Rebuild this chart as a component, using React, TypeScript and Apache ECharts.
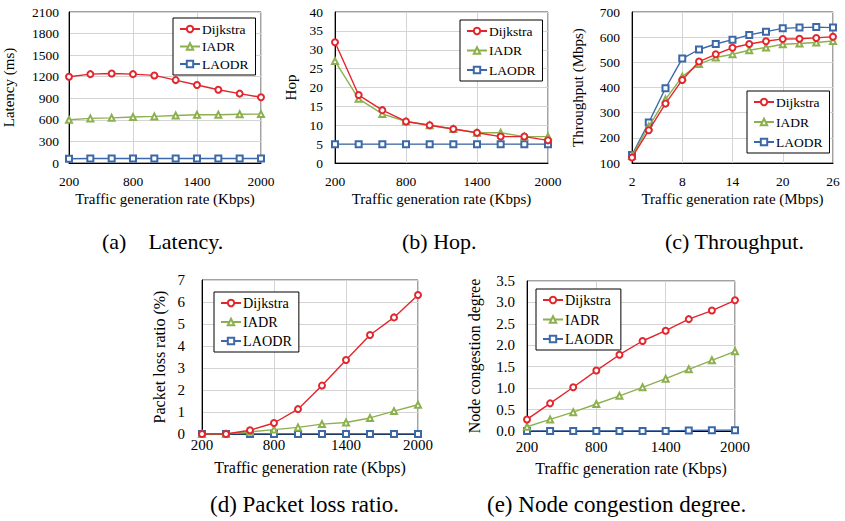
import React, { useEffect, useRef } from 'react';
import * as echarts from 'echarts';

const seriesNames = ['Dijkstra', 'IADR', 'LAODR'];
const kbpsRates = [200, 400, 600, 800, 1000, 1200, 1400, 1600, 1800, 2000];
const mbpsRates = [2, 4, 6, 8, 10, 12, 14, 16, 18, 20, 22, 24, 26];

const latencyDijkstra = [1200, 1236, 1245, 1236, 1218, 1153, 1085, 1018, 965, 914];
const latencyIADR = [602, 620, 628, 639, 648, 660, 670, 671, 678, 680];
const latencyLAODR = [60, 63, 63, 63, 63, 63, 63, 63, 63, 63];

const hopDijkstra = [32, 18, 14, 11, 10, 9, 8, 7, 7, 6];
const hopIADR = [27, 17, 13, 11, 10, 9, 8, 8, 7, 7];
const hopLAODR = [5, 5, 5, 5, 5, 5, 5, 5, 5, 5];

const thrDijkstra = [122, 230, 336, 430, 503, 532, 558, 573, 584, 593, 594, 597, 602];
const thrIADR = [128, 245, 353, 443, 493, 519, 532, 548, 559, 572, 575, 579, 585];
const thrLAODR = [132, 261, 397, 515, 551, 573, 590, 609, 622, 635, 638, 640, 638];

const lossDijkstra = [0, 0, 0.17, 0.5, 1.13, 2.2, 3.36, 4.5, 5.3, 6.32];
const lossIADR = [0, 0, 0.1, 0.2, 0.3, 0.45, 0.52, 0.73, 1.04, 1.33];
const lossLAODR = [0, 0, 0, 0, 0, 0, 0, 0, 0, 0];

const congDijkstra = [0.27, 0.645, 1.02, 1.41, 1.78, 2.1, 2.34, 2.61, 2.81, 3.05];
const congIADR = [0.1, 0.27, 0.44, 0.63, 0.82, 1.02, 1.22, 1.44, 1.65, 1.86];
const congLAODR = [0, 0, 0, 0, 0, 0, 0, 0.01, 0.02, 0.02];

const captions = ['(a)\u00a0\u00a0\u00a0\u00a0Latency.', '(b) Hop.', '(c) Throughput.', '(d) Packet loss ratio.', '(e) Node congestion degree.'];
const yNames = ['Latency (ms)', 'Hop', 'Throughput (Mbps)', 'Packet loss ratio (%)', 'Node congestion degree'];
const xNames = ['Traffic generation rate (Kbps)', 'Traffic generation rate (Kbps)', 'Traffic generation rate (Mbps)', 'Traffic generation rate (Kbps)', 'Traffic generation rate (Kbps)'];

const FONT = 'Liberation Serif';
const COLORS = ['#e3262d', '#8db04f', '#3d68a8'];
const SYMBOLS = ['emptyCircle', 'emptyTriangle', 'emptyRect'];

const App: React.FC = () => {
  const ref = useRef<HTMLDivElement>(null);
  useEffect(() => {
    if (!ref.current) return;
    const chart = echarts.init(ref.current, undefined, { renderer: 'svg' });

    const plain = (v: number) => String(v);
    const panels = [
      { grid: { left: 63, top: 12, width: 198, height: 151 }, x: { min: 200, max: 2000, interval: 600 }, y: { min: 0, max: 2100, interval: 300 }, xs: kbpsRates, data: [latencyDijkstra, latencyIADR, latencyLAODR], tick: 13.5, nameSize: 15, yGap: 53, xGap: 28, xMargin: 11, yMargin: 10, legend: { left: 173, top: 18, gap: 3.5, size: 13.5 }, fmt: plain },
      { grid: { left: 335, top: 12, width: 213, height: 151 }, x: { min: 200, max: 2000, interval: 600 }, y: { min: 0, max: 40, interval: 5 }, xs: kbpsRates, data: [hopDijkstra, hopIADR, hopLAODR], tick: 13.5, nameSize: 15, yGap: 37, xGap: 28, xMargin: 11, yMargin: 12, legend: { left: 460, top: 20, gap: 5.5, size: 13.5 }, fmt: plain },
      { grid: { left: 632, top: 12, width: 201, height: 151 }, x: { min: 2, max: 26, interval: 6 }, y: { min: 100, max: 700, interval: 100 }, xs: mbpsRates, data: [thrDijkstra, thrIADR, thrLAODR], tick: 13.5, nameSize: 15, yGap: 47, xGap: 28, xMargin: 11, yMargin: 12, legend: { left: 747, top: 91, gap: 6, size: 13.5 }, fmt: plain },
      { grid: { left: 202, top: 280, width: 216, height: 154 }, x: { min: 200, max: 2000, interval: 600 }, y: { min: 0, max: 7, interval: 1 }, xs: kbpsRates, data: [lossDijkstra, lossIADR, lossLAODR], tick: 15, nameSize: 16, yGap: 35, xGap: 25, xMargin: 3, yMargin: 17, legend: { left: 214, top: 292, gap: 5, size: 14.2 }, fmt: plain },
      { grid: { left: 527, top: 281, width: 208, height: 150 }, x: { min: 200, max: 2000, interval: 600 }, y: { min: 0, max: 3.5, interval: 0.5 }, xs: kbpsRates, data: [congDijkstra, congIADR, congLAODR], tick: 15, nameSize: 16, yGap: 45, xGap: 29, xMargin: 8, yMargin: 12, legend: { left: 536, top: 289, gap: 5.5, size: 14.2 }, fmt: (v: number) => v.toFixed(1) },
    ];

    const grid: any[] = [];
    const xAxis: any[] = [];
    const yAxis: any[] = [];
    const series: any[] = [];
    const legend: any[] = [];

    panels.forEach((p, i) => {
      grid.push({ ...p.grid, show: true, borderColor: '#444', borderWidth: 1, backgroundColor: 'transparent' });
      xAxis.push({
        type: 'value', gridIndex: i, ...p.x,
        name: xNames[i], nameLocation: 'middle', nameGap: p.xGap,
        nameTextStyle: { fontFamily: FONT, fontSize: p.nameSize, color: '#000' },
        axisLine: { show: true, onZero: false, lineStyle: { color: '#000', width: 1 } },
        axisTick: { show: false },
        axisLabel: { fontFamily: FONT, fontSize: p.tick, color: '#000', margin: p.xMargin, showMinLabel: true, showMaxLabel: true, formatter: plain },
        splitLine: { show: true, lineStyle: { color: '#d4d4d4', width: 1 } },
      });
      yAxis.push({
        type: 'value', gridIndex: i, ...p.y,
        name: yNames[i], nameLocation: 'middle', nameGap: p.yGap,
        nameTextStyle: { fontFamily: FONT, fontSize: p.nameSize, color: '#000' },
        axisLine: { show: true, onZero: false, lineStyle: { color: '#000', width: 1 } },
        axisTick: { show: false },
        axisLabel: { fontFamily: FONT, fontSize: p.tick, color: '#000', margin: p.yMargin, formatter: p.fmt },
        splitLine: { show: true, lineStyle: { color: '#d4d4d4', width: 1 } },
      });
      p.data.forEach((vals, k) => {
        series.push({
          type: 'line', name: seriesNames[k], xAxisIndex: i, yAxisIndex: i,
          data: p.xs.map((x, j) => [x, vals[j]]),
          symbol: SYMBOLS[k], symbolSize: 6,
          lineStyle: { color: COLORS[k], width: 1.4 },
          itemStyle: { color: COLORS[k], borderWidth: 1 },
          z: 3 + (2 - k),
        });
      });
      legend.push({
        show: true, orient: 'vertical', left: p.legend.left, top: p.legend.top,
        data: seriesNames,
        itemWidth: 20, itemHeight: 8, itemGap: p.legend.gap,
        padding: [4, 7, 4, 6],
        borderColor: '#000', borderWidth: 1, backgroundColor: '#fff',
        textStyle: { fontFamily: FONT, fontSize: p.legend.size, color: '#000', padding: [0, 0, 0, -3] },
        selectedMode: false,
      });
    });

    const capPos = [[102, 241], [402, 241], [665, 241], [210, 504], [487, 504]];
    const graphic = captions.map((c, i) => ({
      type: 'text', x: capPos[i][0], y: capPos[i][1],
      style: { text: c, fill: '#000', fontFamily: FONT, fontSize: i < 3 ? 22 : 23, textAlign: 'left', textVerticalAlign: 'middle' },
    }));

    chart.setOption({
      animation: false,
      backgroundColor: '#fff',
      grid, xAxis, yAxis, series, legend, graphic,
    });
    return () => chart.dispose();
  }, []);
  return <div ref={ref} style={{ position: 'absolute', left: 0, top: 0, width: 845, height: 521 }} />;
};

export default App;
